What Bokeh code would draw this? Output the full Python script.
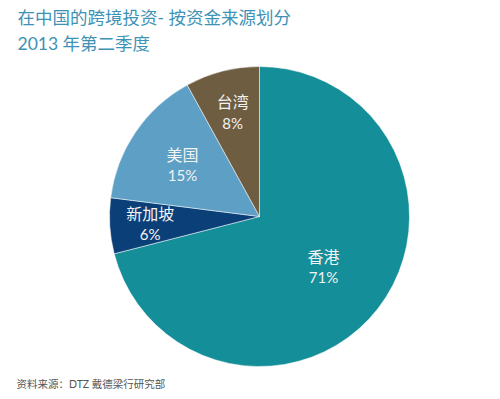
import math
from bokeh.plotting import figure
from bokeh.models import Label, Range1d, ColumnDataSource
from bokeh.core.properties import value
from bokeh.embed import file_html
from bokeh.resources import INLINE

# data
regions = ["香港", "新加坡", "美国", "台湾"]
shares = [71, 6, 15, 8]
colors = ["#148E98", "#0B3F78", "#5E9FC6", "#6E5D40"]
label_r = [0.54, 0.73, 0.62, 0.72]

title1 = "在中国的跨境投资- 按资金来源划分"
title2 = "2013 年第二季度"
source_note = "资料来源：DTZ 戴德梁行研究部"

W, H = 500, 399
cx, cy, R = 259, 183, 150
FONT = "Lato, 'Noto Sans CJK SC', sans-serif"

p = figure(width=W, height=H, output_backend="svg", toolbar_location=None,
           x_range=Range1d(0, W), y_range=Range1d(0, H), min_border=0)
p.axis.visible = False
p.grid.visible = False
p.outline_line_color = None
p.background_fill_color = "white"

total = sum(shares)
starts, ends, lx, ly, pct = [], [], [], [], []
cum = 0.0
for s, rf in zip(shares, label_r):
    a0 = cum / total
    a1 = (cum + s) / total
    cum += s
    starts.append(math.radians(90 - a1 * 360))
    ends.append(math.radians(90 - a0 * 360))
    mid = math.radians(90 - (a0 + a1) / 2 * 360)
    lx.append(cx + rf * R * math.cos(mid))
    ly.append(cy + rf * R * math.sin(mid))
    pct.append(f"{s}%")

src = ColumnDataSource(dict(start=starts, end=ends, color=colors,
                            lx=lx, ly=ly, name=regions, pct=pct))
p.wedge(x=cx, y=cy, radius=R, start_angle="start", end_angle="end",
        fill_color="color", line_color="white", line_width=0.5, source=src)

p.text(x="lx", y="ly", text="name", source=src, y_offset=-10,
       text_align="center", text_baseline="middle", text_color="#F2F2F2",
       text_font=value(FONT), text_font_size="16px")
p.text(x="lx", y="ly", text="pct", source=src, y_offset=11,
       text_align="center", text_baseline="middle", text_color="#F2F2F2",
       text_font=value(FONT), text_font_size="15px")

p.add_layout(Label(x=17, y=382, x_units="screen", y_units="screen", text=title1,
                   text_baseline="middle", text_color="#3E92B6",
                   text_font=FONT, text_font_size="17.5px"))
p.add_layout(Label(x=17, y=356, x_units="screen", y_units="screen", text=title2,
                   text_baseline="middle", text_color="#3E92B6",
                   text_font=FONT, text_font_size="17.5px"))
p.add_layout(Label(x=16, y=16, x_units="screen", y_units="screen", text=source_note,
                   text_baseline="middle", text_color="#555555",
                   text_font=FONT, text_font_size="10.5px"))

open("out.html", "w").write(file_html(p, INLINE))
